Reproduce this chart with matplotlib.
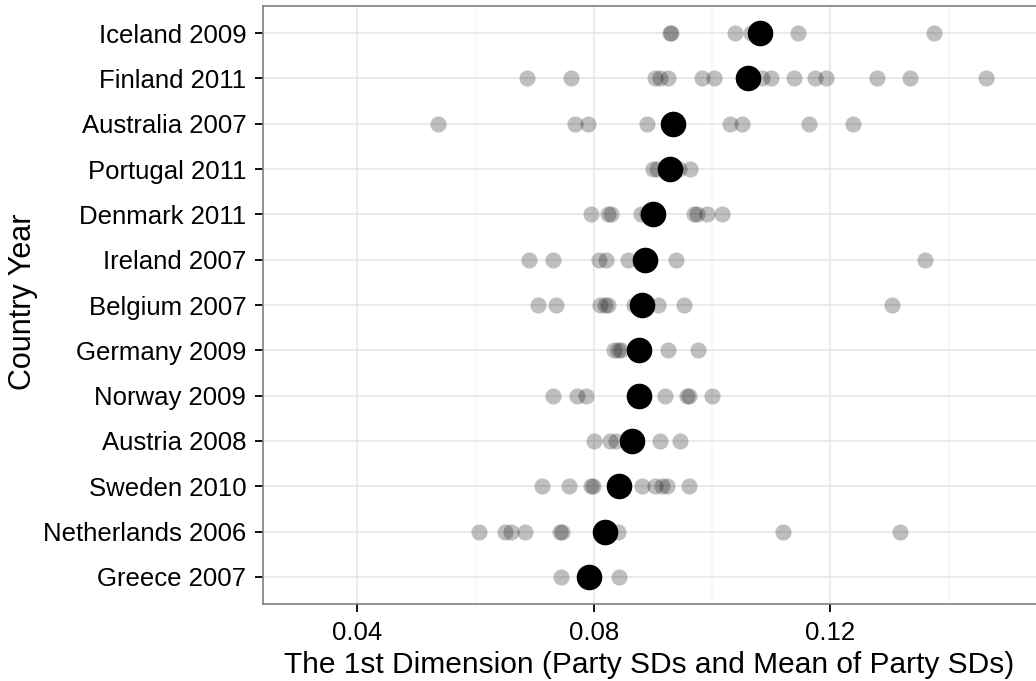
import matplotlib
matplotlib.use("Agg")
import matplotlib.pyplot as plt
import numpy as np

plt.rcParams['font.family'] = ['Liberation Sans', 'DejaVu Sans']

# country-years, bottom to top
countries = ["Greece 2007", "Netherlands 2006", "Sweden 2010", "Austria 2008",
             "Norway 2009", "Germany 2009", "Belgium 2007", "Ireland 2007",
             "Denmark 2011", "Portugal 2011", "Australia 2007", "Finland 2011",
             "Iceland 2009"]

# standard deviation of each party on the 1st dimension
party_sds = {
    "Greece 2007": [0.0744, 0.0842],
    "Netherlands 2006": [0.0605, 0.0649, 0.0659, 0.0683, 0.0742, 0.0746,
                         0.0841, 0.1120, 0.1317],
    "Sweden 2010": [0.0712, 0.0757, 0.0795, 0.0799, 0.0881, 0.0904, 0.0915,
                    0.0923, 0.0961],
    "Austria 2008": [0.0800, 0.0827, 0.0837, 0.0912, 0.0946],
    "Norway 2009": [0.0731, 0.0772, 0.0786, 0.0920, 0.0958, 0.0961, 0.1000],
    "Germany 2009": [0.0834, 0.0840, 0.0846, 0.0925, 0.0976],
    "Belgium 2007": [0.0705, 0.0736, 0.0811, 0.0818, 0.0823, 0.0868, 0.0908,
                     0.0952, 0.1304],
    "Ireland 2007": [0.0690, 0.0731, 0.0808, 0.0821, 0.0858, 0.0938, 0.1359],
    "Denmark 2011": [0.0795, 0.0823, 0.0829, 0.0879, 0.0890, 0.0969, 0.0975,
                     0.0991, 0.1016],
    "Portugal 2011": [0.0899, 0.0907, 0.0943, 0.0963],
    "Australia 2007": [0.0537, 0.0768, 0.0790, 0.0889, 0.1030, 0.1050, 0.1164,
                       0.1238],
    "Finland 2011": [0.0686, 0.0761, 0.0904, 0.0912, 0.0925, 0.0982, 0.1003,
                     0.1085, 0.1100, 0.1138, 0.1174, 0.1192, 0.1278, 0.1334,
                     0.1463],
    "Iceland 2009": [0.0928, 0.0931, 0.1038, 0.1065, 0.1145, 0.1375],
}

# mean of party SDs per country-year
mean_sds = [0.0792, 0.0818, 0.0842, 0.0864, 0.0876, 0.0876, 0.0882, 0.0886,
            0.0900, 0.0928, 0.0933, 0.1061, 0.1081]

fig = plt.figure(figsize=(10.36, 6.81), dpi=100)
ax = fig.add_axes([263/1036, 77/681, (1067 - 263)/1036, 598/681])

for i, c in enumerate(countries):
    xs = party_sds[c]
    ax.scatter(xs, [i]*len(xs), s=135, color='black', alpha=0.25,
               linewidths=0, zorder=3)
ax.scatter(mean_sds, range(len(countries)), s=340, color='black',
           linewidths=0, zorder=4)

ax.set_xlim(0.02402, 0.16)
ax.set_ylim(-0.6, len(countries) - 0.4)
ax.set_yticks(range(len(countries)))
ax.set_yticklabels(countries)
ax.set_xticks([0.04, 0.08, 0.12])
ax.set_xticklabels(["0.04", "0.08", "0.12"])
ax.set_xticks([0.06, 0.10, 0.14], minor=True)

ax.grid(True, which='major', color='#E5E5E5', linewidth=1.1, zorder=0)
ax.grid(True, which='minor', axis='x', color='#F7F7F7', linewidth=1.1, zorder=0)
ax.set_axisbelow(True)

for s in ax.spines.values():
    s.set_color('#7F7F7F')
    s.set_linewidth(1.2)

ax.tick_params(axis='both', which='major', length=6, width=1.3, color='black',
               labelsize=18.5, labelcolor='black', pad=6)
ax.tick_params(axis='x', which='minor', length=0)

ax.set_xlabel("The 1st Dimension (Party SDs and Mean of Party SDs)",
              fontsize=21.5, labelpad=2)
ax.set_ylabel("Country Year", fontsize=22)
ax.xaxis.set_label_coords(773/2 / (1067 - 263), -0.078)
ax.yaxis.set_label_coords(-225/(1067 - 263), 0.505)

fig.savefig("out.png", dpi=100)
